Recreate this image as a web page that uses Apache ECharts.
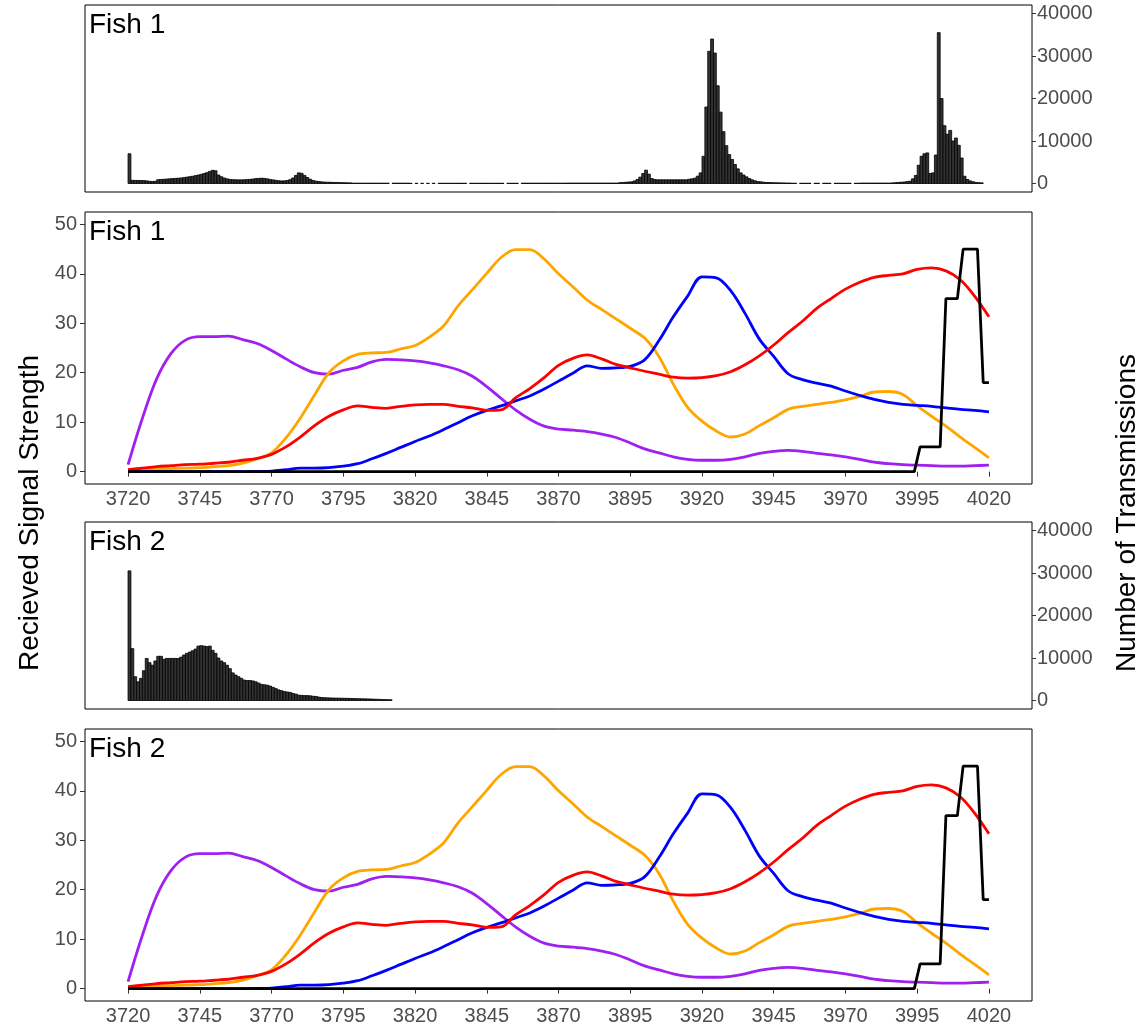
<!DOCTYPE html>
<html>
<head>
<meta charset="utf-8">
<script src="https://cdn.jsdelivr.net/npm/echarts@6/dist/echarts.min.js"></script>
<style>
  html, body { margin: 0; background: #fff; }
  #chart { width: 1148px; height: 1028px; }
</style>
</head>
<body>
<div id="chart"></div>
<script>
// axis ticks
const xTicks = [3720, 3745, 3770, 3795, 3820, 3845, 3870, 3895, 3920, 3945, 3970, 3995, 4020];
const strengthTicks = [0, 10, 20, 30, 40, 50];
const countTicks = [0, 10000, 20000, 30000, 40000];

// histogram: one bin per unit, starting at 3720 (null = no transmissions in that bin)
const binStart = 3720;
const fish1Counts = [
  7000, 750, 720, 720, 700, 680, 620, 520, 480, 520,
  900, 950, 1000, 1050, 1100, 1150, 1200, 1250, 1300, 1400,
  1500, 1600, 1700, 1850, 2000, 2150, 2350, 2550, 2850, 3100,
  3000, 2000, 1600, 1300, 1100, 950, 900, 880, 850, 850,
  880, 920, 980, 1050, 1150, 1200, 1250, 1200, 1100, 950,
  850, 750, 650, 600, 620, 700, 900, 1300, 1900, 2500,
  2400, 1900, 1400, 1000, 700, 550, 450, 380, 330, 300,
  280, 260, 240, 220, 200, 180, 160, 150, 80, 80,
  80, 80, 80, 80, 80, 80, 80, 80, 80, 80,
  80, null, 80, 80, 80, 80, 80, 80, 50, null,
  50, null, 50, null, 50, null, 50, null, 50, 60,
  60, 60, 60, 60, 60, 60, 60, 60, null, 60,
  60, 60, 60, 60, 60, 60, 60, 60, 60, 60,
  60, null, 60, 60, 60, 60, null, 80, 80, 80,
  80, 80, 80, 80, 80, 80, 80, 80, 80, 80,
  80, 80, 80, 100, 100, 100, 100, 100, 100, 100,
  100, 100, 100, 100, 100, 100, 100, 100, 100, 100,
  100, 200, 250, 300, 350, 400, 600, 950, 1500, 2350,
  3140, 2200, 1180, 950, 870, 870, 870, 870, 870, 870,
  870, 870, 870, 870, 870, 1000, 1100, 1250, 1730, 2500,
  6400, 18000, 31100, 34000, 30700, 23000, 16800, 12200, 8900, 6800,
  5650, 4470, 3450, 2500, 2000, 1570, 1180, 860, 630, 450,
  400, 300, 250, 230, 200, 180, 160, 150, 130, 120,
  110, 60, 60, null, 60, 60, 60, 60, null, 60,
  60, null, 60, 60, 60, null, 60, 60, 60, 60,
  60, 60, null, 60, 60, 100, 100, 100, 100, 100,
  100, 100, 100, 100, 100, 100, 150, 200, 250, 300,
  350, 450, 540, 1100, 1900, 4300, 6400, 7000, 7200, 2350,
  2500, 6700, 35500, 20000, 13600, 11600, 12500, 10000, 10700, 9000,
  6000, 1700, 940, 600, 400, 250, 200, 150
];
const fish2Counts = [
  30500, 12200, 5600, 4400, 5200, 7000, 9900, 8900, 8300, 9300,
  10400, 10400, 9700, 9900, 9900, 9900, 9900, 9900, 10200, 10700,
  11100, 11400, 11700, 12100, 12800, 12900, 12800, 12700, 12800, 11800,
  11100, 10000, 9300, 8900, 8300, 7500, 6500, 6000, 5600, 5200,
  4800, 4700, 4700, 4600, 4400, 4100, 3800, 3700, 3600, 3400,
  3100, 2800, 2500, 2300, 2100, 2000, 1900, 1650, 1500, 1250,
  1200, 1150, 1150, 1100, 1000, 950, 800, 700, 650, 620,
  600, 580, 560, 550, 540, 520, 500, 480, 460, 440,
  420, 400, 390, 370, 350, 320, 300, 270, 240, 220,
  200, 180
];

// received signal strength per receiver
const sampleX = [
  3720, 3725, 3730, 3735, 3740, 3745, 3750, 3755, 3760, 3765,
  3770, 3775, 3780, 3785, 3790, 3795, 3800, 3805, 3810, 3815,
  3820, 3825, 3830, 3835, 3840, 3845, 3850, 3855, 3860, 3865,
  3870, 3875, 3880, 3885, 3890, 3895, 3900, 3905, 3910, 3915,
  3920, 3925, 3930, 3935, 3940, 3945, 3950, 3955, 3960, 3965,
  3970, 3975, 3980, 3985, 3990, 3995, 4000, 4005, 4010, 4015, 4020
];
const purple = [
  1.4, 10.8, 18.8, 23.9, 26.6, 27.3, 27.3, 27.4, 26.7, 25.9,
  24.5, 22.8, 21.2, 20.0, 19.7, 20.5, 21.1, 22.2, 22.7, 22.6,
  22.4, 22.0, 21.4, 20.6, 19.3, 17.2, 14.8, 12.5, 10.6, 9.2,
  8.6, 8.4, 8.1, 7.6, 6.9, 5.8, 4.6, 3.8, 3.0, 2.5,
  2.3, 2.3, 2.5, 3.0, 3.7, 4.1, 4.3, 4.1, 3.7, 3.4,
  3.0, 2.5, 1.9, 1.6, 1.4, 1.3, 1.2, 1.1, 1.1, 1.2, 1.3
];
const orange = [
  0.2, 0.4, 0.5, 0.6, 0.7, 0.8, 1.0, 1.2, 1.7, 2.6,
  3.8, 6.8, 10.8, 15.5, 20.0, 22.4, 23.7, 24.0, 24.1, 24.8,
  25.5, 27.2, 29.5, 33.5, 36.8, 40.1, 43.3, 44.9, 44.9, 43.0,
  40.0, 37.4, 34.7, 32.8, 30.9, 29.0, 27.0, 23.3, 17.7, 13.0,
  10.2, 8.2, 7.0, 7.6, 9.3, 10.9, 12.6, 13.2, 13.6, 14.0,
  14.5, 15.2, 16.1, 16.2, 15.6, 13.3, 11.2, 9.2, 7.0, 4.9, 2.8
];
const red = [
  0.4, 0.7, 1.0, 1.2, 1.4, 1.5, 1.7, 1.9, 2.3, 2.7,
  3.5, 5.0, 7.0, 9.3, 11.2, 12.5, 13.3, 13.0, 12.8, 13.2,
  13.5, 13.6, 13.6, 13.2, 12.9, 12.4, 12.5, 14.9, 16.8, 19.0,
  21.5, 22.9, 23.6, 22.8, 21.7, 21.0, 20.3, 19.7, 19.1, 18.9,
  19.0, 19.4, 20.2, 21.6, 23.4, 25.6, 28.1, 30.4, 33.0, 35.0,
  36.9, 38.3, 39.3, 39.7, 40.0, 40.9, 41.2, 40.6, 38.8, 35.5, 31.3
];
const blue = [
  0, 0, 0, 0, 0, 0, 0, 0, 0, 0.05,
  0.1, 0.4, 0.7, 0.7, 0.8, 1.1, 1.6, 2.6, 3.7, 4.9,
  6.1, 7.2, 8.5, 9.9, 11.3, 12.4, 13.3, 14.3, 15.3, 16.7,
  18.3, 19.9, 21.4, 20.9, 21.0, 21.3, 22.6, 26.5, 31.3, 35.5,
  39.4, 39.2, 36.6, 32.0, 26.8, 23.3, 19.8, 18.6, 17.9, 17.3,
  16.3, 15.4, 14.6, 14.0, 13.6, 13.4, 13.2, 12.9, 12.6, 12.4, 12.1
];
// fish position signal (black)
const fishX = [3720, 3994, 3996, 4003, 4005, 4009, 4011, 4016, 4018, 4020];
const fishY = [0, 0, 5, 5, 35, 35, 45, 45, 18, 18];

const FONT = '"Liberation Sans", Arial, Helvetica, sans-serif';
const tickColor = '#4d4d4d';
const plain = function (v) { return String(v); };

const chart = echarts.init(document.getElementById('chart'), null, { renderer: 'canvas' });

const panels = [
  { top: 5, height: 187, kind: 'hist', title: 'Fish 1', counts: fish1Counts },
  { top: 212, height: 272, kind: 'line', title: 'Fish 1' },
  { top: 522, height: 187, kind: 'hist', title: 'Fish 2', counts: fish2Counts },
  { top: 729, height: 272, kind: 'line', title: 'Fish 2' }
];

function histData(counts) {
  const out = [];
  counts.forEach(function (c, i) {
    if (c != null) out.push([binStart + i, binStart + i + 1, c]);
  });
  return out;
}

function pairs(xs, ys) {
  return xs.map(function (x, i) { return [x, ys[i]]; });
}

const grid = [], xAxis = [], yAxis = [], series = [], graphic = [];

panels.forEach(function (p, k) {
  grid.push({
    left: 85, right: 116, top: p.top, height: p.height,
    show: true, borderColor: '#000', borderWidth: 1, backgroundColor: 'transparent'
  });
  const isLine = p.kind === 'line';
  xAxis.push({
    type: 'value', gridIndex: k, min: 3705, max: 4035,
    splitLine: { show: false },
    axisLine: { show: false },
    axisTick: isLine ? { show: true, length: 5, customValues: xTicks, lineStyle: { color: '#333', width: 1 } } : { show: false },
    axisLabel: isLine ? { show: true, customValues: xTicks, formatter: plain, fontSize: 20, color: tickColor, fontFamily: FONT, margin: 5 } : { show: false }
  });
  if (isLine) {
    yAxis.push({
      type: 'value', gridIndex: k, position: 'left', min: -2.5, max: 52.5,
      splitLine: { show: false }, axisLine: { show: false },
      axisTick: { show: true, length: 5, customValues: strengthTicks, lineStyle: { color: '#333', width: 1 } },
      axisLabel: { customValues: strengthTicks, formatter: plain, fontSize: 20, color: tickColor, fontFamily: FONT, margin: 8 }
    });
    const lines = [
      { data: purple, color: '#A020F0' },
      { data: orange, color: '#FFA500' },
      { data: blue, color: '#0000FF' },
      { data: red, color: '#FF0000' }
    ];
    lines.forEach(function (l) {
      series.push({
        type: 'line', xAxisIndex: k, yAxisIndex: k, smooth: 0.35, showSymbol: false,
        lineStyle: { color: l.color, width: 2.8 }, silent: true,
        data: pairs(sampleX, l.data)
      });
    });
    series.push({
      type: 'line', xAxisIndex: k, yAxisIndex: k, smooth: false, showSymbol: false,
      lineStyle: { color: '#000', width: 2.8 }, silent: true,
      data: pairs(fishX, fishY)
    });
  } else {
    yAxis.push({
      type: 'value', gridIndex: k, position: 'right', min: -2000, max: 42000,
      splitLine: { show: false }, axisLine: { show: false },
      axisTick: { show: true, length: 4, customValues: countTicks, lineStyle: { color: '#333', width: 1 } },
      axisLabel: { customValues: countTicks, formatter: plain, fontSize: 20, color: tickColor, fontFamily: FONT, margin: 5 }
    });
    series.push({
      type: 'custom', xAxisIndex: k, yAxisIndex: k, silent: true,
      data: histData(p.counts),
      renderItem: function (params, api) {
        const a = api.coord([api.value(0), api.value(2)]);
        const b = api.coord([api.value(1), 0]);
        return {
          type: 'rect',
          shape: { x: a[0], y: a[1], width: b[0] - a[0], height: b[1] - a[1] },
          style: { fill: '#333333', stroke: '#000', lineWidth: 0.8 }
        };
      }
    });
  }
  graphic.push({
    type: 'text', x: 89, y: p.top + 6, z: 100,
    style: { text: p.title, fontSize: 28, fontFamily: FONT, fill: '#000', textVerticalAlign: 'top' }
  });
});

graphic.push({
  type: 'text', x: 30, y: 513, rotation: Math.PI / 2, z: 100,
  style: { text: 'Recieved Signal Strength', fontSize: 28, fontFamily: FONT, fill: '#000', align: 'center', verticalAlign: 'middle' }
});
graphic.push({
  type: 'text', x: 1127, y: 513, rotation: Math.PI / 2, z: 100,
  style: { text: 'Number of Transmissions', fontSize: 28, fontFamily: FONT, fill: '#000', align: 'center', verticalAlign: 'middle' }
});

chart.setOption({
  animation: false,
  backgroundColor: '#fff',
  grid: grid,
  xAxis: xAxis,
  yAxis: yAxis,
  series: series,
  graphic: graphic
});
</script>
</body>
</html>
